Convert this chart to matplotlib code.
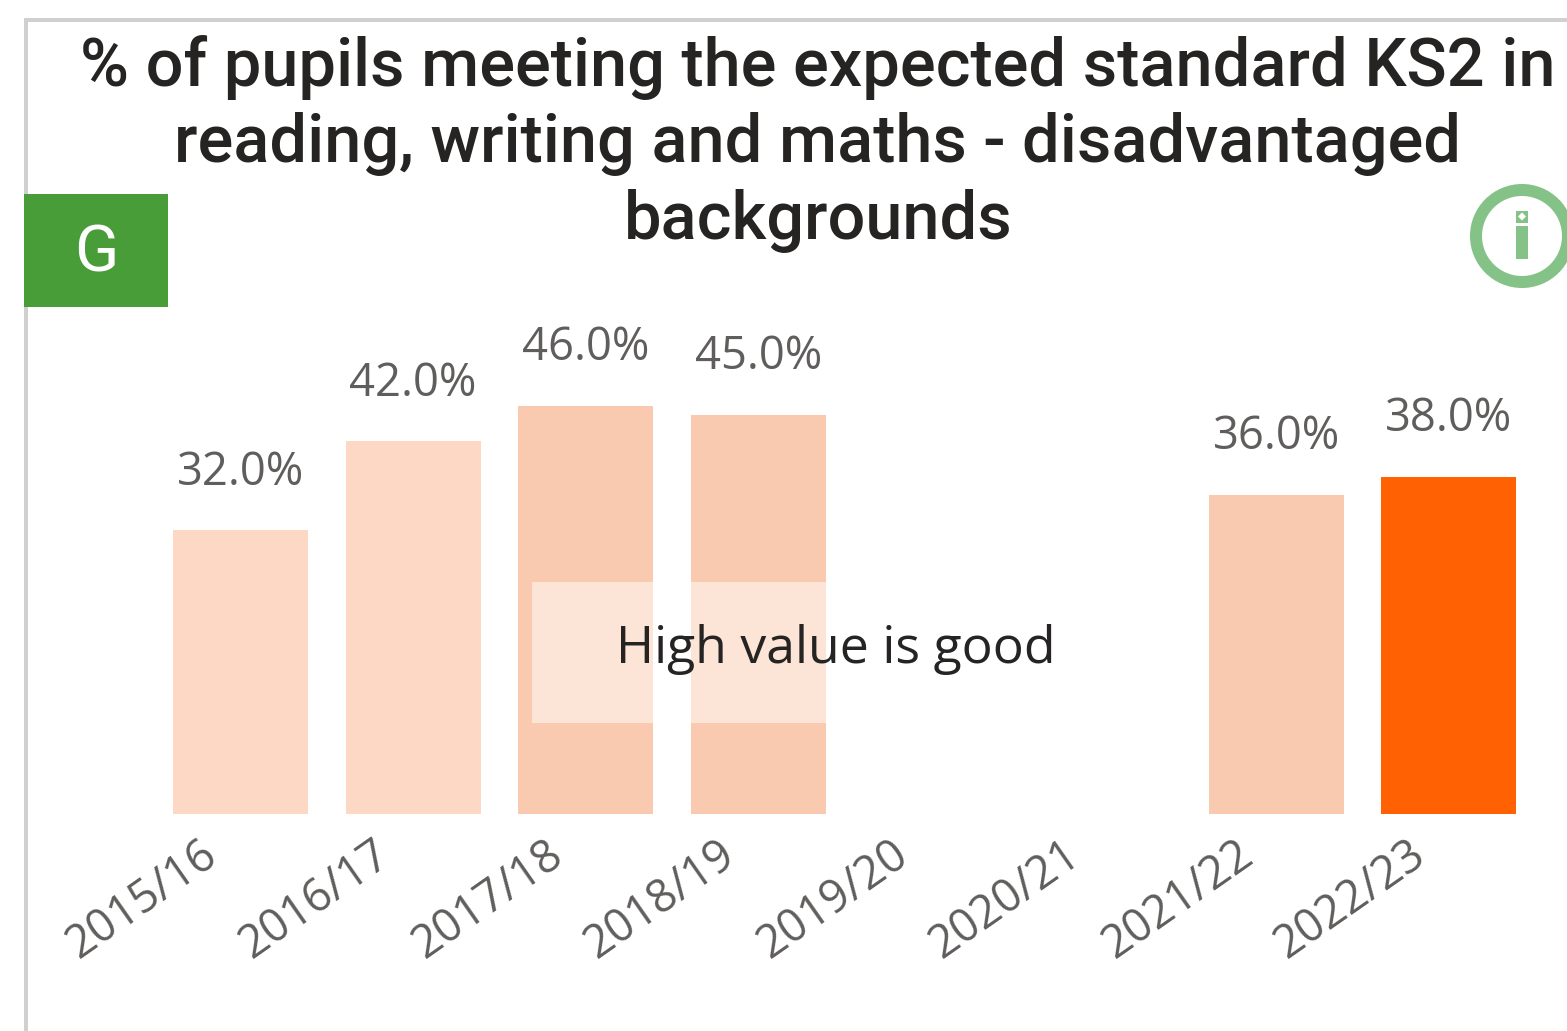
import matplotlib
matplotlib.use("Agg")
import matplotlib.pyplot as plt
from matplotlib.patches import Rectangle, Circle, Polygon
from matplotlib.transforms import ScaledTranslation

W, H = 1567, 1031
years = ["2015/16", "2016/17", "2017/18", "2018/19", "2019/20", "2020/21", "2021/22", "2022/23"]
values = [32.0, 42.0, 46.0, 45.0, None, None, 36.0, 38.0]
bar_colors = ["#FCD8C5", "#FCD8C5", "#F9CAAF", "#F9CAAF", "#F9CAAF", "#F9CAAF", "#F9CAAF", "#FF6103"]
title = "% of pupils meeting the expected standard KS2 in\nreading, writing and maths - disadvantaged\nbackgrounds"

fig = plt.figure(figsize=(W / 100, H / 100), dpi=100, facecolor="white")

def px_axes(x0, x1, y_top, y_bot):
    return fig.add_axes([x0 / W, 1 - y_bot / H, (x1 - x0) / W, (y_bot - y_top) / H])

# Main chart
ax = px_axes(154.2, 1535.0, 310, 814)
ax.set_xlim(-0.5, 7.5)
ax.set_ylim(0, 504 / 8.87)
ax.patch.set_alpha(0)
for s in ax.spines.values():
    s.set_visible(False)
for i, v in enumerate(values):
    if v is None:
        continue
    ax.bar(i, v, width=135 / 172.6, color=bar_colors[i], linewidth=0)
    ax.annotate(f"{v:.1f}%", (i, v), xytext=(0, 57.5 * 0.72), textcoords="offset points",
                ha="center", va="center", fontsize=32.7, color="#605E5C", family="Open Sans")
ax.set_yticks([])
ax.set_xticks(range(len(years)))
ax.set_xticklabels(years, rotation=35, ha="right", rotation_mode="anchor",
                   fontsize=32.7, color="#605E5C", family="Open Sans")
ax.tick_params(axis="x", length=0, pad=12.5)
shift = ScaledTranslation(-40.5 / 100, 0, fig.dpi_scale_trans)
for lab in ax.get_xticklabels():
    lab.set_transform(lab.get_transform() + shift)

# Overlay in pixel coordinates for the card decoration
ov = fig.add_axes([0, 0, 1, 1], zorder=5)
ov.set_xlim(0, W)
ov.set_ylim(H, 0)
ov.axis("off")
ov.add_patch(Rectangle((24, 18), W - 24, 4, color="#D0D0D0", lw=0))
ov.add_patch(Rectangle((24, 18), 4, H - 18, color="#D0D0D0", lw=0))
ov.add_patch(Rectangle((24, 194), 144, 112.5, color="#489D38", lw=0))
ov.text(96, 253, "G", color="white", fontsize=47, ha="center", va="center", family="Roboto")
ov.text(818, 144, title, ha="center", va="center", fontsize=48, color="#252423",
        family="Roboto", fontweight="medium", linespacing=1.25, multialignment="center")

# Info icon
ov.add_patch(Circle((1522, 236), 46, fill=False, ec="#85C287", lw=12 * 0.72))
ov.add_patch(Rectangle((1516, 210.5), 12, 12, color="#85C287", lw=0))
ov.add_patch(Polygon([(1522, 212.5), (1526, 216.5), (1522, 220.5), (1518, 216.5)], color="white", lw=0))
ov.add_patch(Rectangle((1516, 226), 12, 33, color="#85C287", lw=0))

# "High value is good" overlay
ov.add_patch(Rectangle((532, 582), 534, 141, color="white", alpha=0.5, lw=0))
ov.text(836, 649.5, "High value is good", ha="center", va="center", fontsize=37.3,
        color="#252423", family="Open Sans")

fig.savefig("out.png", dpi=100, facecolor="white")
